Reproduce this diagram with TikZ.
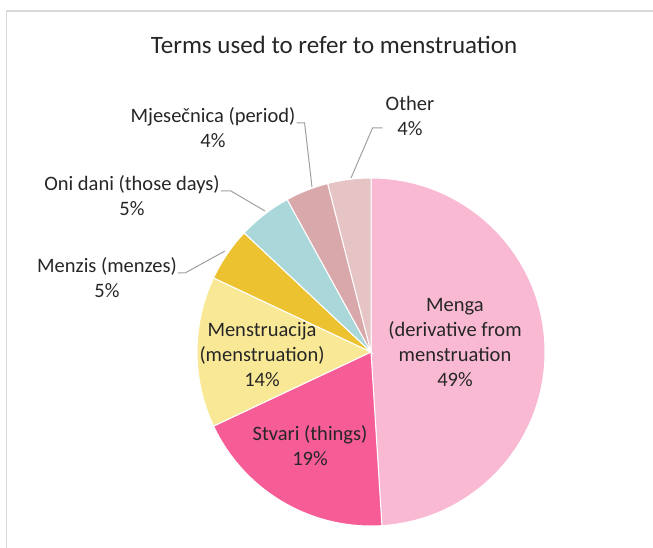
\documentclass[tikz,border=0pt]{standalone}
\usepackage{fontspec}
\setmainfont{Carlito}
\usetikzlibrary{positioning}

\definecolor{mengapink}{HTML}{F9B9D3}
\definecolor{stvaripink}{HTML}{F65D96}
\definecolor{menstyellow}{HTML}{F9E997}
\definecolor{menzisgold}{HTML}{ECC231}
\definecolor{onidaniteal}{HTML}{AAD8DA}
\definecolor{mjesrose}{HTML}{D9A8AA}
\definecolor{otherpink}{HTML}{E6C3C5}
\definecolor{leadergray}{HTML}{A0A0A0}
\definecolor{framegray}{HTML}{D9D9D9}
\definecolor{labeltext}{HTML}{262626}

\begin{document}
\begin{tikzpicture}[x=1pt,y=1pt,
  lbl/.style={align=center,text=labeltext,font=\fontsize{20.5}{25}\selectfont,inner sep=0pt},
  leader/.style={draw=leadergray,line width=1pt}]

\useasboundingbox (0,0) rectangle (653,548);

% Frame
\draw[framegray,line width=1.5pt] (6.5,0) -- (6.5,537) -- (653,537);

% Title
\node[lbl,font=\fontsize{25}{30}\selectfont] (title) at (334,503) {Terms used to refer to menstruation};

% Slices
\coordinate (c) at (371,196);
\foreach \a/\b/\col in {90/-86.4/mengapink, -86.4/-154.8/stvaripink, -154.8/-205.2/menstyellow,
    -205.2/-223.2/menzisgold, -223.2/-241.2/onidaniteal, -241.2/-255.6/mjesrose, -255.6/-270/otherpink}
  \filldraw[fill=\col,draw=white,line width=1pt] (c) -- ++(\a:174) arc[start angle=\a,end angle=\b,radius=174] -- cycle;

% Labels inside
\node[lbl] (menga) at (455,205) {Menga\\(derivative from\\menstruation\\49\%};
\node[lbl] (stvari) at (310,102) {Stvari (things)\\19\%};
\node[lbl] (menst) at (262,193) {Menstruacija\\(menstruation)\\14\%};

% Labels outside
\node[lbl] (mjes) at (213,420) {Mjesečnica (period)\\4\%};
\node[lbl] (other) at (410,432) {Other\\4\%};
\node[lbl] (onidani) at (132,352) {Oni dani (those days)\\5\%};
\node[lbl] (menzis) at (107,270) {Menzis (menzes)\\5\%};

% Leaders
\coordinate (mjesend) at (312,361);
\coordinate (otherend) at (351,370);
\coordinate (onidaniend) at (265,337);
\coordinate (menzisend) at (225,297);
\draw[leader] ([xshift=1pt,yshift=5pt]mjes.east) -- ++(8,0) -- (mjesend);
\draw[leader] ([xshift=-3pt,yshift=-12pt]other.west) -- ++(-10,0) -- (otherend);
\draw[leader] ([xshift=1pt,yshift=5pt]onidani.east) -- ++(10,0) -- (onidaniend);
\draw[leader] ([xshift=1pt,yshift=5pt]menzis.east) -- ++(7,0) -- (menzisend);

\end{tikzpicture}
\end{document}
